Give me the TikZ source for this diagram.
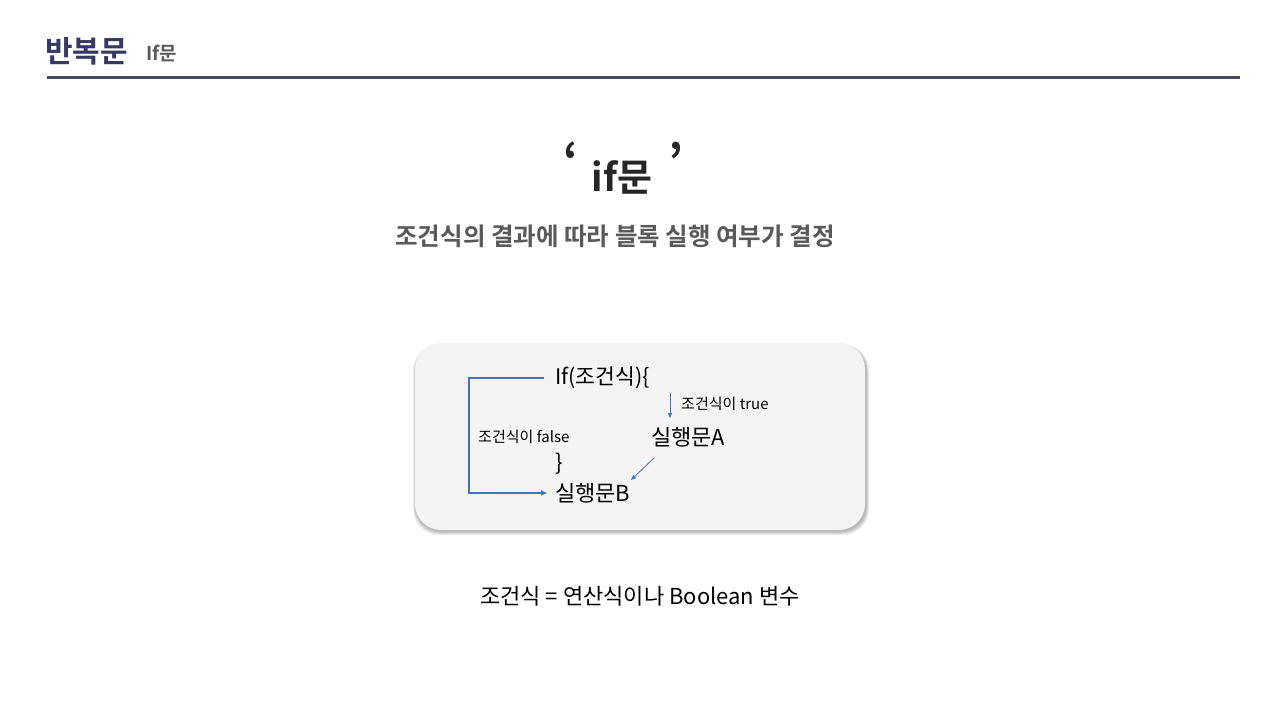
\documentclass[tikz,border=0pt]{standalone}
\usepackage{fontspec}
\setmainfont{Noto Sans CJK KR}
\newfontfamily\kr{Noto Sans CJK KR}
\newfontfamily\krb{Noto Sans CJK KR Bold}
\usetikzlibrary{arrows.meta}
\definecolor{navy}{HTML}{363A63}
\definecolor{rule}{HTML}{474B66}
\definecolor{subgray}{HTML}{595959}
\definecolor{boxfill}{HTML}{F4F4F4}
\definecolor{arrowblue}{HTML}{4472C4}
\tikzset{
  txt/.style={inner sep=0pt, anchor=west, text=black},
  flow/.style={draw=arrowblue, line width=1.2pt, -{Triangle[length=6pt,width=5pt]}},
  thin flow/.style={draw=arrowblue, line width=0.8pt, -{Triangle[length=5pt,width=4pt]}},
}
\begin{document}
\begin{tikzpicture}[x=1pt,y=-1pt]
\useasboundingbox (0,0) rectangle (1280,720);
\fill[white] (0,0) rectangle (1280,720);
% header
\node[inner sep=0pt, anchor=west, text=navy, font=\krb\fontsize{30}{33}\selectfont] (head) at (45,51) {반복문};
\node[inner sep=0pt, anchor=west, text=subgray, font=\krb\fontsize{19}{22}\selectfont] (headsub) at (146,53) {If문};
\draw[rule, line width=3pt] (47,77) -- (1240,77);
% title
\node[inner sep=0pt, text=black!85, font=\krb\fontsize{38}{42}\selectfont] (title) at (622,177) {if문};
\node[inner sep=0pt, text=black!85, font=\krb\fontsize{46}{50}\selectfont] (lq) at (571,160) {‘};
\node[inner sep=0pt, text=black!85, font=\krb\fontsize{46}{50}\selectfont] (rq) at (676,160) {’};
\node[inner sep=0pt, text=subgray, font=\krb\fontsize{24.5}{28}\selectfont] (subtitle) at (615,236) {조건식의 결과에 따라 블록 실행 여부가 결정};
% box shadow (soft, mostly below)
\foreach \i in {1,...,6}{
  \fill[black, opacity=0.05, rounded corners=26pt]
    (415+1-\i*0.5,343+3-\i*0.3) rectangle (865+1+\i*0.5,530+1+\i*0.7);
}
\fill[boxfill, rounded corners=26pt] (415,343) rectangle (865,530);
\node[txt, font=\kr\fontsize{21.5}{25}\selectfont] (if) at (555,378) {If(조건식)\{};
\node[txt, font=\kr\fontsize{15}{18}\selectfont] (trueL) at (681,404) {조건식이 true};
\node[txt, font=\kr\fontsize{22}{25}\selectfont] (A) at (651,437) {실행문A};
\node[txt, font=\kr\fontsize{15}{18}\selectfont] (falseL) at (478,437) {조건식이 false};
\node[txt, font=\kr\fontsize{22}{25}\selectfont] (brace) at (555,464) {\}};
\node[txt, font=\kr\fontsize{22}{25}\selectfont] (B) at (555,493) {실행문B};
\coordinate (lx) at (469,0);
\draw[flow, shorten <=11pt, shorten >=8pt] (if.west) -- (if.west -| lx) |- (B.west);
\coordinate (t1) at (670,393);
\coordinate (t2) at (670,418);
\draw[thin flow] (t1) -- (t2);
\coordinate (d1) at (654,458);
\coordinate (d2) at (631,480);
\draw[thin flow] (d1) -- (d2);
% bottom
\node[inner sep=0pt, text=black, font=\kr\fontsize{22}{25}\selectfont] (note) at (640,596) {조건식 = 연산식이나 Boolean 변수};
\end{tikzpicture}
\end{document}
